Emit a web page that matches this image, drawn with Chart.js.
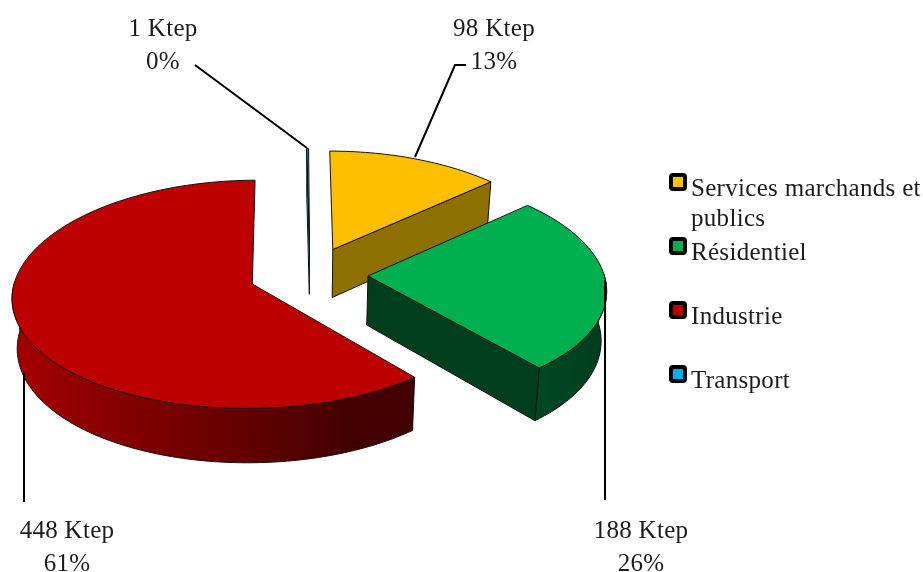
<!DOCTYPE html>
<html>
<head>
<meta charset="utf-8">
<title>Consommation par secteur</title>
<style>
    html, body { margin: 0; background: #fff; }
    canvas { display: block; }
</style>
<script src="https://cdn.jsdelivr.net/npm/chart.js@4"></script>
</head>
<body>
<canvas id="plot-pie" width="923" height="572"></canvas>
<script>
/* global Chart */

const categories = ["Services marchands et publics", "Résidentiel", "Industrie", "Transport"];
const ktep = [98, 188, 448, 1];
const percents = [13, 26, 61, 0];

const legendLines = [["Services marchands et", "publics"], ["Résidentiel"], ["Industrie"], ["Transport"]];

const topColors = ["#fdbf00", "#00b050", "#bd0000", "#00b0f0"];
const cutColors = ["#8e7000", "#003f1e", "#4a0000", "#00b0f0"];
const wallLeft = ["#8e7000", "#004a24", "#a40000", "#005a7a"];
const wallRight = ["#8e7000", "#003f1e", "#440000", "#005a7a"];
const explode = [58, 58, 61, 60];

// back to front
const paintOrder = [3, 0, 2, 1];

const FONT = '25px "Liberation Serif"';
const TEXT_COLOR = "#1c1c1c";

// fake camera, tuned by eye against the picture
const VANISH_X = 300;
const HORIZON_Y = 274;
const TILT = 0.472;
const DEPTH_X = 0.00045;
const DEPTH_Y = 0.00038;
const THICKNESS = 49;
const BOTTOM_SHRINK = 0.982;

// [centre x, first baseline] of each data label, same order as ktep
const labelSpots = [[494, 36], [641, 538], [67, 538], [163, 36]];
const leaderLines = [
    [[466, 65], [455, 65], [415, 157]],
    [[605, 280], [605, 500]],
    [[24, 373], [24, 502]],
    [[195, 65], [307, 148]]
];
const legendX = 669;
const legendTextX = 691;
const legendBaselines = [196, 260, 324, 388];

function project(u, v, bottom) {
    let sx = 1 / (1 - DEPTH_X * v);
    let sy = 1 / (1 - DEPTH_Y * v);
    let x = u * sx;
    let y = TILT * v * sy;
    if (bottom) {
        x *= BOTTOM_SHRINK;
        y += THICKNESS * sy;
    }
    return { x: VANISH_X + x, y: HORIZON_Y + y };
}

function sliceGeometry(arc) {
    let props = arc.getProps(["x", "y", "startAngle", "endAngle", "outerRadius"], true);
    let mid = (props.startAngle + props.endAngle) / 2;
    let cu = props.x - VANISH_X + Math.cos(mid) * arc.options.offset;
    let cv = props.y - HORIZON_Y + Math.sin(mid) * arc.options.offset;
    let rim = [];
    let steps = Math.max(2, Math.ceil((props.endAngle - props.startAngle) * 40));
    for (let i = 0; i <= steps; i++) {
        let a = props.startAngle + (props.endAngle - props.startAngle) * i / steps;
        rim.push({ a: a, u: cu + Math.cos(a) * props.outerRadius, v: cv + Math.sin(a) * props.outerRadius });
    }
    return { apex: { u: cu, v: cv }, rim: rim, startAngle: props.startAngle, endAngle: props.endAngle };
}

function fillPath(ctx, points, fill) {
    ctx.beginPath();
    points.forEach((p, i) => {
        if (i == 0) {
            ctx.moveTo(p.x, p.y);
        } else {
            ctx.lineTo(p.x, p.y);
        }
    });
    ctx.closePath();
    ctx.fillStyle = fill;
    ctx.fill();
    ctx.stroke();
}

function drawCutWall(ctx, a, b, color) {
    fillPath(ctx, [
        project(a.u, a.v, false), project(b.u, b.v, false),
        project(b.u, b.v, true), project(a.u, a.v, true)
    ], color);
}

function drawSlice(ctx, arc, i) {
    let g = sliceGeometry(arc);
    let topRim = g.rim.map(p => project(p.u, p.v, false));

    ctx.lineWidth = 1;
    ctx.lineJoin = "round";
    ctx.strokeStyle = "#111";

    // curved wall, front half of the rim only
    let front = g.rim.filter(p => Math.sin(p.a) > -0.03);
    if (front.length > 1) {
        let xs = topRim.map(p => p.x);
        let grad = ctx.createLinearGradient(Math.min(...xs), 0, Math.max(...xs), 0);
        grad.addColorStop(0, wallLeft[i]);
        grad.addColorStop(0.85, wallRight[i]);
        let upper = front.map(p => project(p.u, p.v, false));
        let lower = front.map(p => project(p.u, p.v, true)).reverse();
        fillPath(ctx, upper.concat(lower), grad);
    }

    // cut faces, only the ones turned towards the viewer
    if (-Math.cos(g.startAngle) > 0) {
        drawCutWall(ctx, g.apex, g.rim[0], cutColors[i]);
    }
    if (Math.cos(g.endAngle) > 0) {
        drawCutWall(ctx, g.apex, g.rim[g.rim.length - 1], cutColors[i]);
    }

    // top face
    fillPath(ctx, [project(g.apex.u, g.apex.v, false)].concat(topRim), topColors[i]);
}

function drawLeaders(ctx) {
    ctx.strokeStyle = "#000";
    ctx.lineWidth = 2;
    ctx.lineJoin = "miter";
    leaderLines.forEach(line => {
        ctx.beginPath();
        line.forEach((p, i) => {
            if (i == 0) {
                ctx.moveTo(p[0], p[1]);
            } else {
                ctx.lineTo(p[0], p[1]);
            }
        });
        ctx.stroke();
    });
}

function drawLabels(ctx) {
    ctx.font = FONT;
    ctx.letterSpacing = "0.3px";
    ctx.fillStyle = TEXT_COLOR;
    ctx.textAlign = "center";
    ctx.textBaseline = "alphabetic";
    labelSpots.forEach((spot, i) => {
        ctx.fillText(ktep[i] + " Ktep", spot[0], spot[1]);
        ctx.fillText(percents[i] + "%", spot[0], spot[1] + 33);
    });
}

function drawLegend(ctx) {
    ctx.font = FONT;
    ctx.letterSpacing = "0.3px";
    ctx.textAlign = "left";
    ctx.textBaseline = "alphabetic";
    legendLines.forEach((lines, i) => {
        let boxY = legendBaselines[i] - 23;
        ctx.beginPath();
        ctx.roundRect(legendX + 2, boxY + 2, 14, 14, 2);
        ctx.fillStyle = topColors[i];
        ctx.fill();
        ctx.lineWidth = 4;
        ctx.strokeStyle = "#000";
        ctx.stroke();

        ctx.fillStyle = TEXT_COLOR;
        lines.forEach((text, j) => {
            ctx.fillText(text, legendTextX, legendBaselines[i] + j * 30);
        });
    });
}

const pie3d = {
    id: "pie3d",
    // the flat arcs are replaced by the projected ones below
    beforeDatasetsDraw() {
        return false;
    },
    afterDraw(chart) {
        let ctx = chart.ctx;
        let arcs = chart.getDatasetMeta(0).data;
        ctx.save();
        paintOrder.forEach(i => drawSlice(ctx, arcs[i], i));
        drawLeaders(ctx);
        drawLabels(ctx);
        drawLegend(ctx);
        ctx.restore();
    }
};

new Chart("plot-pie", {
    type: "pie",
    data: {
        labels: categories,
        datasets: [{ data: ktep, backgroundColor: topColors, borderWidth: 0, offset: explode }]
    },
    options: {
        responsive: false,
        animation: false,
        radius: 236,
        rotation: 0,
        layout: { padding: { right: 303, bottom: 24 } },
        plugins: { legend: { display: false }, tooltip: { enabled: false } }
    },
    plugins: [pie3d]
});
</script>
</body>
</html>
